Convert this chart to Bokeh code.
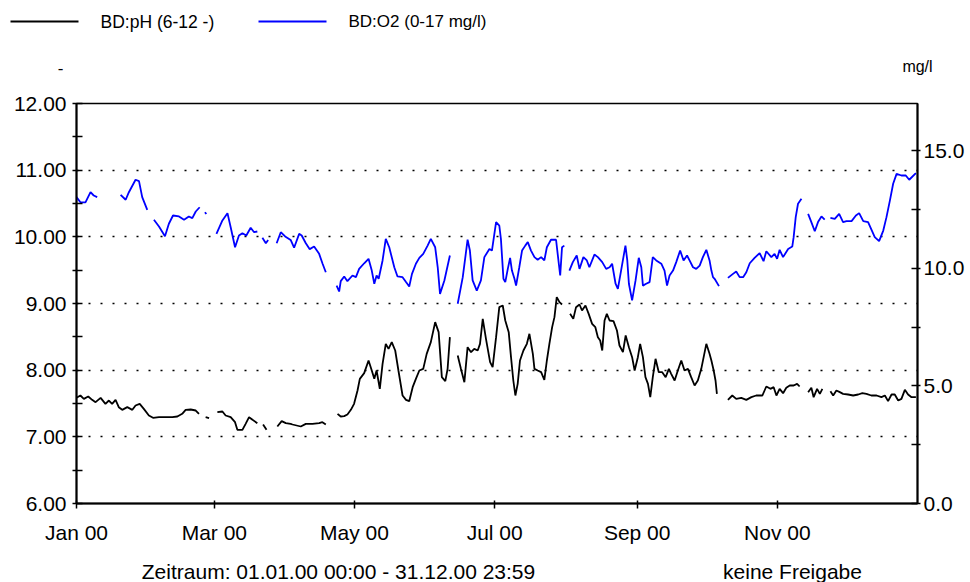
import numpy as np
from bokeh.plotting import figure
from bokeh.layouts import column
from bokeh.models import (LinearAxis, Range1d, FixedTicker, PrintfTickFormatter,
                          DatetimeTickFormatter, Label, ColumnDataSource)
from bokeh.embed import file_html
from bokeh.resources import INLINE

NAN = float("nan")

# ---- data (days since 2000-01-01, values) ----
PH_DAYS = [0, 1.7, 3.2, 5.1, 6.8, 8.3, 10.5, 12.6, 14.1, 15.5, 17.0, 18.4, 19.9, 22.1, 24.3, 25.7, 27.5, 29.3,
           31.5, 33.3, 35.9, 38.8, 41.7, 43.9, 46.0, 47.5, 49.7, 51.9, 53.3, 54.8,
           56.2, 57.7, 59.5,
           61.3, 63.5, 64.9, 67.1, 69.0, 70.0, 72.2, 73.6, 75.1, 76.6, 78.7, 80.0,
           81.2, 82.7, 85.0,
           87.4, 89.3, 91.1, 93.2, 94.0, 97.6, 99.8, 102.7, 105.6, 107.0, 108.5, 111.0,
           113.6, 115.0, 116.5, 117.9, 119.4, 120.8, 122.3, 123.3, 125.2, 127.1, 128.5, 129.6, 130.6, 132.0,
           133.2, 134.6, 135.8, 137.2, 138.7, 140.1, 141.9, 143.4, 144.8, 146.3, 147.7, 149.2, 150.9, 152.4,
           154.2, 156.1, 157.6, 159.0, 160.5, 161.5, 162.5, 164.2,
           165.9, 167.3, 168.8, 170.2, 171.7, 173.1, 174.6, 175.6, 176.8, 178.2, 180.0, 181.1, 182.6, 184.0,
           185.5, 186.6, 188.1, 189.1, 190.1, 191.0, 192.0, 193.0, 194.5, 196.0, 197.1, 198.6, 199.3, 200.7,
           202.2, 203.6, 204.7, 205.8, 207.0, 208.0, 209.0, 210.2, 211.3, 213.0,
           214.8, 216.2, 217.4, 218.9, 220.0, 221.5, 222.9, 224.4, 225.8, 226.9, 227.9, 228.8, 229.8, 230.8,
           232.0, 233.7, 235.2, 236.3, 237.8, 239.0, 240.4, 241.8, 242.9, 244.3, 245.3, 246.5, 247.6, 248.7,
           249.7, 250.8, 252.0, 253.4, 254.9, 256.4, 257.8, 258.8, 260.3, 261.7, 263.2, 264.6, 266.1, 267.5,
           269.0, 270.4, 271.9, 274.1, 275.5, 276.3, 277.3, 278.1, 278.7, 281.0,
           283.5, 285.4, 287.1, 289.3, 291.5, 293.7, 295.8, 298.5, 300.2, 302.0, 303.4, 304.6, 306.0, 307.5,
           308.9, 310.4, 312.1, 313.6, 314.7, 316.5,
           318.4, 319.8, 320.8, 322.3, 323.5, 324.6, 326.4,
           328.1, 329.3, 330.7, 332.2, 333.6, 335.8, 338.0, 340.2, 342.0, 343.8, 345.9, 348.2, 350.3, 351.8,
           353.2, 354.7, 356.1, 357.6, 359.0, 360.5, 361.9, 363.4, 365.3]
PH_VALUES = [7.585, 7.62, 7.57, 7.605, 7.555, 7.52, 7.585, 7.495, 7.545, 7.495, 7.555, 7.445, 7.405, 7.445, 7.405, 7.47, 7.495, 7.42,
             7.32, 7.285, 7.295, 7.295, 7.295, 7.305, 7.345, 7.405, 7.41, 7.395, 7.345, NAN,
             7.295, 7.28, NAN,
             7.37, 7.38, 7.32, 7.295, 7.22, 7.105, 7.105, 7.195, 7.295, 7.255, 7.205, NAN,
             7.185, 7.105, NAN,
             7.155, 7.235, 7.205, 7.195, 7.185, 7.155, 7.195, 7.195, 7.205, 7.22, 7.185, NAN,
             7.345, 7.305, 7.31, 7.335, 7.405, 7.495, 7.695, 7.87, 7.955, 8.145, 7.995, 7.87, 7.995, 7.72,
             8.095, 8.395, 8.32, 8.42, 8.295, 7.995, 7.62, 7.555, 7.535, 7.745, 7.87, 7.995, 8.02, 8.245,
             8.42, 8.72, 8.57, 7.895, 7.835, 8.02, 8.495, NAN,
             8.22, 8.02, 7.82, 8.345, 8.27, 8.32, 8.295, 8.395, 8.77, 8.47, 8.12, 8.045, 8.495, 8.945,
             8.97, 8.745, 8.57, 8.195, 7.845, 7.62, 7.795, 8.145, 8.295, 8.395, 8.545, 8.245, 8.02, 7.995,
             7.97, 7.855, 8.145, 8.395, 8.645, 8.795, 9.095, 9.02, 8.985, NAN,
             8.845, 8.77, 8.945, 8.985, 8.895, 8.97, 8.845, 8.695, 8.645, 8.495, 8.445, 8.295, 8.745, 8.845,
             8.745, 8.735, 8.595, 8.37, 8.27, 8.52, 8.345, 8.195, 7.995, 8.195, 8.395, 8.195, 7.895, 7.795,
             7.595, 7.895, 8.17, 7.97, 7.97, 7.895, 8.02, 7.945, 7.845, 7.995, 8.145, 7.995, 8.02, 7.895,
             7.77, 7.845, 8.02, 8.395, 8.245, 8.145, 7.995, 7.845, 7.645, NAN,
             7.555, 7.62, 7.57, 7.585, 7.555, 7.595, 7.62, 7.62, 7.755, 7.72, 7.745, 7.62, 7.72, 7.655,
             7.735, 7.77, 7.77, 7.795, 7.755, NAN,
             7.67, 7.735, 7.595, 7.72, 7.645, 7.72, NAN,
             7.685, 7.62, 7.695, 7.67, 7.645, 7.635, 7.62, 7.635, 7.655, 7.645, 7.62, 7.62, 7.595, 7.62,
             7.535, 7.635, 7.635, 7.545, 7.57, 7.705, 7.635, 7.595, 7.595]

O2_DAYS = [0, 1.7, 3.9, 6.1, 7.5, 9.0, 14.0,
           19.2, 21.4, 22.8, 25.7, 27.2, 28.6, 30.8, 32.2,
           33.7, 35.9, 38.5, 40.2, 42.0, 44.6, 46.8, 48.9, 50.4, 51.9, 53.6, 54.8,
           55.9, 56.5, 58.5,
           60.9, 63.5, 65.7, 67.1, 69.0, 70.7, 72.2, 73.9, 75.8, 77.3, 78.7, 80.0,
           80.9, 82.4, 83.4, 85.0,
           87.1, 88.9, 90.8, 93.2, 94.7, 96.9, 98.0, 99.8, 101.5, 103.4, 105.6, 107.1, 108.5, 111.0,
           113.2, 114.3, 115.0, 116.5, 117.9, 120.1, 121.6, 123.0, 125.2, 127.1, 128.5, 129.6, 130.6, 131.5,
           133.2, 134.6, 136.1, 138.3, 139.7, 141.9, 143.4, 144.8, 146.0, 147.7, 149.2, 150.9, 152.8, 154.2,
           156.1, 157.2, 158.2, 160.1, 162.5, 164.2,
           165.9, 168.1, 170.2, 171.2, 172.4, 174.2, 176.0, 177.5, 179.7, 180.8, 182.6, 184.0, 184.7, 185.8,
           186.6, 187.7, 188.7, 189.5, 190.6, 191.3, 192.7, 193.9, 195.3, 196.4, 197.8, 199.3, 200.7, 202.2,
           203.6, 204.7, 206.5, 208.7, 209.9, 210.5, 211.3, 212.3, 213.4,
           214.5, 216.0, 217.7, 218.9, 220.6, 222.1, 223.2, 225.4, 226.9, 228.8, 230.5, 232.0, 233.1, 234.6,
           235.6, 237.0, 238.9, 239.7, 240.4, 241.8, 243.3, 244.7, 245.8, 246.5, 247.9, 249.4, 250.8, 252.3,
           254.5, 255.9, 257.0, 258.1, 259.6, 261.0, 262.7, 264.2, 265.7, 266.8, 268.3, 269.7, 271.2, 272.6,
           274.1, 275.5, 276.3, 277.0, 277.7, 279.6, 281.5,
           283.5, 285.7, 287.1, 288.6, 290.1, 291.5, 293.0, 295.1, 297.3, 299.0, 300.2, 302.4, 303.8, 304.9,
           306.0, 307.5, 309.7, 311.5, 312.1, 313.0, 314.0, 315.5, 317.0,
           318.4, 319.8, 321.3, 322.7, 324.2, 325.6, 327.0,
           328.1, 330.0, 331.9, 333.6, 335.1, 337.3, 339.2, 340.6, 342.4, 344.5, 346.0, 347.4, 349.3, 351.1,
           352.5, 354.0, 355.4, 356.9, 359.0, 360.9, 362.4, 365.3]
O2_VALUES = [13.02, 12.80, 12.80, 13.23, 13.09, 13.02, NAN,
             13.12, 12.91, 13.23, 13.76, 13.70, 13.02, 12.48, NAN,
             12.06, 11.77, 11.36, 11.89, 12.24, 12.20, 12.06, 12.20, 12.13, 12.41, 12.59, NAN,
             12.38, 12.30, NAN,
             11.46, 12.03, 12.34, 11.74, 10.89, 11.39, 11.49, 11.39, 11.72, 11.53, 11.56, NAN,
             11.29, 11.06, 11.20, NAN,
             11.06, 11.53, 11.35, 11.20, 10.87, 11.46, 11.39, 11.06, 10.81, 10.92, 10.61, 10.19, 9.83, NAN,
             9.26, 9.01, 9.45, 9.65, 9.45, 9.69, 9.62, 9.97, 10.21, 10.40, 9.90, 9.34, 9.69, 9.55,
             10.33, 11.25, 10.89, 10.04, 9.65, 9.62, 9.41, 9.22, 9.76, 10.19, 10.44, 10.61, 10.96, 11.25,
             10.89, 10.04, 8.91, 9.48, 10.54, NAN,
             8.49, 9.62, 11.21, 10.75, 9.48, 9.05, 9.48, 10.47, 10.82, 10.75, 11.96, 11.81, 11.25, 9.55,
             9.41, 9.97, 10.44, 9.90, 9.55, 9.26, 10.04, 10.75, 10.96, 11.11, 10.75, 10.47, 10.36, 10.47,
             10.33, 10.89, 11.21, 11.21, 10.19, 9.69, 10.89, 10.96, NAN,
             9.90, 10.26, 10.54, 9.97, 10.47, 10.33, 10.04, 10.58, 10.47, 10.26, 9.97, 10.04, 10.19, 9.34,
             9.12, 9.90, 10.96, 10.33, 9.34, 8.63, 9.48, 10.44, 10.04, 9.26, 9.34, 9.41, 10.47, 10.33,
             10.19, 9.90, 9.26, 9.69, 9.90, 10.26, 10.75, 10.33, 10.54, 10.33, 10.04, 9.97, 10.11, 10.47,
             10.78, 10.33, 9.90, 9.62, 9.55, 9.24, NAN,
             9.59, 9.76, 9.86, 9.62, 9.62, 9.83, 10.21, 10.44, 10.64, 10.30, 10.72, 10.47, 10.61, 10.40,
             10.78, 10.47, 10.82, 10.92, 11.32, 12.17, 12.74, 12.95, NAN,
             12.31, 11.96, 11.57, 11.96, 12.20, 12.06, NAN,
             12.14, 12.10, 12.31, 11.96, 12.00, 12.00, 12.24, 12.34, 12.00, 11.96, 11.63, 11.32, 11.15, 11.60,
             12.17, 12.88, 13.59, 14.01, 13.94, 13.94, 13.76, 14.04]

X_TICK_DATES = ["2000-01-01", "2000-03-01", "2000-05-01", "2000-07-01", "2000-09-01", "2000-11-01"]
PH_TICKS = [6, 7, 8, 9, 10, 11, 12]
PH_MINOR = [6.5, 7.5, 8.5, 9.5, 10.5, 11.5]
PH_GRID = [7, 8, 9, 10, 11]
O2_TICKS = [0, 5, 10, 15]
O2_MINOR = [2.5, 7.5, 12.5]

PH_LABEL = "BD:pH (6-12 -)"
O2_LABEL = "BD:O2 (0-17 mg/l)"
PH_UNIT = "-"
O2_UNIT = "mg/l"
PERIOD_TEXT = "Zeitraum: 01.01.00 00:00 - 31.12.00 23:59"
STATUS_TEXT = "keine Freigabe"

FONT = "Liberation Sans"
PH_COLOR = "black"
O2_COLOR = "#0000ff"
DAY_MS = 86400000.0
BASE_MS = 946684800000.0  # 2000-01-01 00:00

W = 970
TOP_H = 83
BOT_H = 35


def to_ms(days):
    return BASE_MS + np.asarray(days, dtype=float) * DAY_MS


def date_ms(s):
    return float(np.datetime64(s, "ms").astype("int64"))


ph_src = ColumnDataSource(dict(x=to_ms(PH_DAYS), y=np.array(PH_VALUES, dtype=float)))
o2_src = ColumnDataSource(dict(x=to_ms(O2_DAYS), y=np.array(O2_VALUES, dtype=float)))

# ---------------- main chart ----------------
p = figure(frame_width=841, frame_height=400, x_axis_type="datetime",
           x_range=Range1d(BASE_MS, BASE_MS + 366 * DAY_MS - 60000), y_range=Range1d(6, 12),
           output_backend="svg", toolbar_location=None, frame_align=False,
           min_border_left=76, min_border_right=53, min_border_top=20, min_border_bottom=44,
           background_fill_color="white", border_fill_color="white",
           outline_line_color="black", outline_line_width=1.5)

p.extra_y_ranges = {"o2": Range1d(0, 17)}

o2_line = p.line("x", "y", source=o2_src, y_range_name="o2", line_color=O2_COLOR, line_width=1.8)
ph_line = p.line("x", "y", source=ph_src, line_color=PH_COLOR, line_width=1.8)

p.xgrid.visible = False
p.ygrid.ticker = FixedTicker(ticks=PH_GRID)
p.ygrid.grid_line_color = "black"
p.ygrid.grid_line_dash = "2 10"
p.ygrid.grid_line_width = 1.6


def style_axis(ax):
    ax.axis_line_color = "black"
    ax.axis_line_width = 2
    ax.major_tick_line_color = "black"
    ax.minor_tick_line_color = "black"
    ax.major_tick_line_width = 1.5
    ax.minor_tick_line_width = 1.5
    ax.major_label_text_font = FONT
    ax.major_label_text_font_size = "21px"
    ax.major_label_text_color = "black"


ly = p.yaxis[0]
style_axis(ly)
ly.ticker = FixedTicker(ticks=PH_TICKS, minor_ticks=PH_MINOR)
ly.formatter = PrintfTickFormatter(format="%.2f")
ly.major_tick_in = 6
ly.major_tick_out = 4
ly.minor_tick_in = 6
ly.minor_tick_out = 4
ly.major_label_standoff = 6

ry = LinearAxis(y_range_name="o2")
style_axis(ry)
ry.ticker = FixedTicker(ticks=O2_TICKS, minor_ticks=O2_MINOR)
ry.formatter = PrintfTickFormatter(format="%.1f")
ry.major_tick_in = 6
ry.major_tick_out = 3
ry.minor_tick_in = 6
ry.minor_tick_out = 3
ry.major_label_standoff = 3
p.add_layout(ry, "right")

xa = p.xaxis[0]
style_axis(xa)
xa.ticker = FixedTicker(ticks=[date_ms(d) for d in X_TICK_DATES], minor_ticks=[])
fmt = "%b %y"
xa.formatter = DatetimeTickFormatter(years=fmt, months=fmt, days=fmt, hours=fmt, hourmin=fmt,
                                     minutes=fmt, minsec=fmt, seconds=fmt,
                                     milliseconds=fmt, microseconds=fmt)
xa.major_tick_in = 3
xa.major_tick_out = 5
xa.major_label_standoff = 12


def bare_fig(h):
    f = figure(width=W, height=h, x_range=Range1d(0, W), y_range=Range1d(h, 0),
               x_axis_location=None, y_axis_location=None, min_border=0, frame_align=False,
               output_backend="svg", toolbar_location=None, outline_line_color=None,
               background_fill_color="white", border_fill_color="white")
    f.grid.visible = False
    return f


def add_text(fig, text, x, y, size, align="left"):
    fig.add_layout(Label(x=x, y=y, text=text, text_align=align, text_baseline="middle",
                         text_font=FONT, text_font_size=size, text_color="black"))


# ---------------- header: legend keys + unit labels ----------------
top = bare_fig(TOP_H)
KEY_Y = 21
top.segment(x0=[10], y0=[KEY_Y], x1=[78], y1=[KEY_Y], line_color=PH_COLOR, line_width=1.8)
top.segment(x0=[258], y0=[KEY_Y], x1=[326], y1=[KEY_Y], line_color=O2_COLOR, line_width=1.8)
add_text(top, PH_LABEL, 100, KEY_Y, "17.5px")
add_text(top, O2_LABEL, 348, KEY_Y, "17px")
add_text(top, PH_UNIT, 60, 67, "17px", "center")
add_text(top, O2_UNIT, 917, 66, "16px", "center")

# ---------------- footer ----------------
bot = bare_fig(BOT_H)
add_text(bot, PERIOD_TEXT, 338, 24, "21px", "center")
add_text(bot, STATUS_TEXT, 792, 24, "21px", "center")

layout = column(top, p, bot, spacing=0)
open("out.html", "w").write(file_html(layout, INLINE))
